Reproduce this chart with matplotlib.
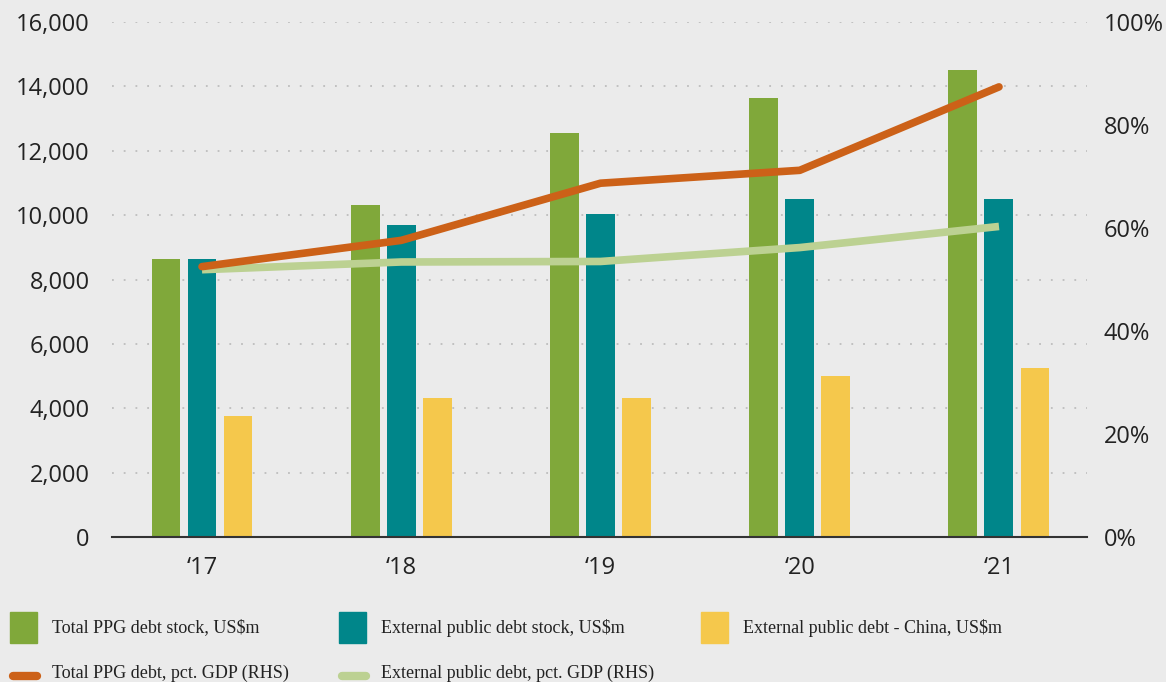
import numpy as np
import matplotlib.pyplot as plt
from matplotlib.patches import Rectangle
from matplotlib.lines import Line2D
from matplotlib.ticker import FuncFormatter

# Debt data, 2017-2021
years = ['\u201817', '\u201818', '\u201819', '\u201820', '\u201821']
total_ppg_stock = [8650, 10300, 12550, 13650, 14500]
external_stock = [8650, 9680, 10020, 10490, 10490]
external_china = [3770, 4330, 4330, 5010, 5260]
total_ppg_pct = [52.5, 57.6, 68.7, 71.2, 87.4]
external_pct = [51.9, 53.4, 53.5, 56.2, 60.3]

bg = '#ebebeb'
c_green = '#80a83a'
c_teal = '#00868a'
c_yellow = '#f5c84c'
c_orange = '#cc6118'
c_light = '#bcd192'

W, H = 1166, 682
fig = plt.figure(figsize=(W / 100, H / 100), dpi=100, facecolor=bg)
ax = fig.add_axes([112 / W, 1 - 537 / H, 975 / W, 515 / H])
ax.set_facecolor(bg)

x = np.arange(len(years))
bw = 0.1455
step = 0.1807
ax.bar(x - step, total_ppg_stock, bw, color=c_green, zorder=2)
ax.bar(x, external_stock, bw, color=c_teal, zorder=2)
ax.bar(x + step, external_china, bw, color=c_yellow, zorder=2)

ax.set_xlim(-0.4517, 4.4417)
ax.set_ylim(0, 16000)
ax.set_yticks(range(0, 16001, 2000))
ax.yaxis.set_major_formatter(FuncFormatter(lambda v, p: f'{int(v):,}'))
ax.set_xticks(x)
ax.set_xticklabels(years)
ax.grid(True, axis='y', color='#bdbdbd', linestyle=(0, (1, 5.5)), linewidth=1.3, zorder=0)
for s in ['top', 'left', 'right']:
    ax.spines[s].set_visible(False)
ax.spines['bottom'].set_color('#333333')
ax.spines['bottom'].set_linewidth(1.5)
ax.tick_params(axis='both', length=0, labelsize=17, labelcolor='#222222')
ax.tick_params(axis='y', pad=16)
ax.tick_params(axis='x', pad=14)

ax2 = ax.twinx()
ax2.set_ylim(0, 100)
ax2.set_yticks(range(0, 101, 20))
ax2.yaxis.set_major_formatter(FuncFormatter(lambda v, p: f'{int(v)}%'))
for s in ax2.spines.values():
    s.set_visible(False)
ax2.tick_params(axis='y', length=0, labelsize=17, labelcolor='#222222', pad=12)
ax2.plot(x, external_pct, color=c_light, lw=5.5, solid_capstyle='butt', zorder=3)
ax2.plot(x, total_ppg_pct, color=c_orange, lw=5.5, solid_capstyle='round', zorder=4)

for lab in ax.get_xticklabels() + ax.get_yticklabels() + ax2.get_yticklabels():
    lab.set_fontfamily('Open Sans')

# legend drawn by hand in pixel positions
def fx(px):
    return px / W

def fy(py):
    return 1 - py / H

patch_items = [(10, c_green, 'Total PPG debt stock, US$m'),
               (339, c_teal, 'External public debt stock, US$m'),
               (701, c_yellow, 'External public debt - China, US$m')]
for px, col, txt in patch_items:
    fig.patches.append(Rectangle((fx(px), fy(643)), 27 / W, 31 / H,
                                 transform=fig.transFigure, color=col))
    fig.text(fx(px + 42), fy(628), txt, fontsize=13, family='Liberation Serif',
             color='#222222', va='center')

line_items = [(10, c_orange, 'Total PPG debt, pct. GDP (RHS)'),
              (339, c_light, 'External public debt, pct. GDP (RHS)')]
for px, col, txt in line_items:
    fig.lines.append(Line2D([fx(px + 3), fx(px + 27)], [fy(676), fy(676)],
                            transform=fig.transFigure, color=col, lw=6,
                            solid_capstyle='round'))
    fig.text(fx(px + 42), fy(673), txt, fontsize=13, family='Liberation Serif',
             color='#222222', va='center')

fig.savefig('out.png', dpi=100, facecolor=bg)
